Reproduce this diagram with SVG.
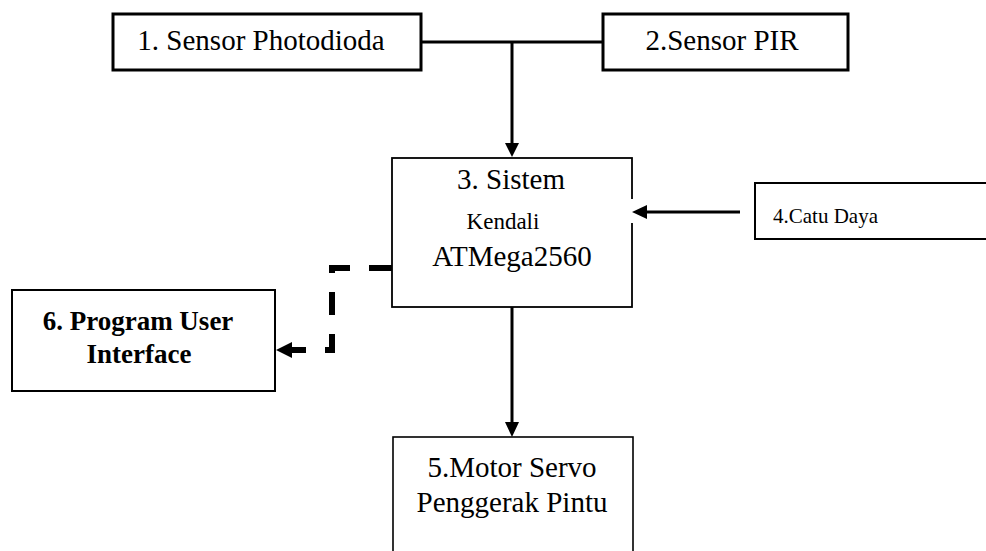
<svg xmlns="http://www.w3.org/2000/svg" width="986" height="551" viewBox="0 0 986 551">
<style>
  .box { fill: #fff; stroke: #000; }
  .t { font-family: "Liberation Serif", "Times New Roman", serif; fill: #000; }
  .ln { stroke: #000; fill: none; }
</style>
<defs>
  <marker id="ah" viewBox="0 0 10 10" refX="10" refY="5" markerWidth="5" markerHeight="5" orient="auto" markerUnits="strokeWidth">
    <path d="M0,0 L10,5 L0,10 Z" fill="#000"/>
  </marker>
</defs>
<rect width="986" height="551" fill="#fff"/>

<g id="node1">
  <rect class="box" x="113" y="14" width="308" height="56" stroke-width="3"/>
  <text class="t" x="261" y="50" font-size="29" text-anchor="middle">1. Sensor Photodioda</text>
</g>
<g id="node2">
  <rect class="box" x="603" y="14" width="245" height="56" stroke-width="3"/>
  <text class="t" x="722" y="50" font-size="29" text-anchor="middle">2.Sensor PIR</text>
</g>
<g id="node3">
  <rect class="box" x="392" y="158" width="240" height="149" stroke-width="1.8"/>
  <text class="t" x="511" y="189" font-size="29" text-anchor="middle">3. Sistem</text>
  <text class="t" x="503" y="229" font-size="23" text-anchor="middle">Kendali</text>
  <text class="t" x="512" y="266" font-size="29" text-anchor="middle">ATMega2560</text>
</g>
<g id="node4">
  <rect class="box" x="755" y="183" width="240" height="56" stroke-width="2"/>
  <text class="t" x="773" y="223" font-size="21">4.Catu Daya</text>
</g>
<g id="node5">
  <rect class="box" x="393" y="437" width="240" height="130" stroke-width="1.6"/>
  <text class="t" x="512" y="477" font-size="29" text-anchor="middle">5.Motor Servo</text>
  <text class="t" x="512" y="512" font-size="29" text-anchor="middle">Penggerak Pintu</text>
</g>
<g id="node6">
  <rect class="box" x="12" y="290" width="263" height="101" stroke-width="2"/>
  <text class="t" x="138" y="330" font-size="27" font-weight="bold" text-anchor="middle">6. Program User</text>
  <text class="t" x="139" y="363" font-size="27" font-weight="bold" text-anchor="middle">Interface</text>
</g>

<g id="connectors">
  <line class="ln" x1="421" y1="42" x2="603" y2="42" stroke-width="3"/>
  <line class="ln" x1="512" y1="42" x2="512" y2="144" stroke-width="3"/>
  <polygon points="505,143 519,143 512,157" fill="#000"/>
  <rect x="628" y="199" width="9" height="24" fill="#fff"/>
  <line class="ln" x1="740" y1="212" x2="646" y2="212" stroke-width="3"/>
  <polygon points="647,205 647,219 632,212" fill="#000"/>
  <line class="ln" x1="512" y1="307" x2="512" y2="423" stroke-width="3"/>
  <polygon points="505,422 519,422 512,437" fill="#000"/>
  <path class="ln" d="M392,268 H332 V350 H292" stroke-width="6" stroke-dasharray="23 19"/>
  <polygon points="292,342 292,358 276,350" fill="#000"/>
</g>
</svg>
